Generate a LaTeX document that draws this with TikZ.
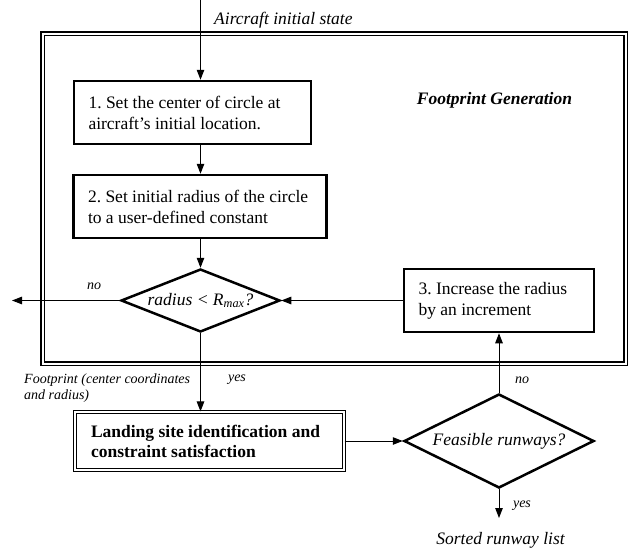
\documentclass[tikz,border=0pt]{standalone}
\usepackage{fontspec}
\setmainfont{Liberation Serif}
\usetikzlibrary{shapes.geometric,arrows.meta}
\frenchspacing
\newcommand\natsp{\spaceskip=0pt\xspaceskip=0pt\relax}
\begin{document}
\begin{tikzpicture}[x=1pt,y=-1pt,
  big/.style={font=\fontsize{17.5}{21}\selectfont},
  bigit/.style={font=\fontsize{17.5}{21}\selectfont\itshape},
  small/.style={font=\fontsize{14}{16}\selectfont\itshape},
  stepbox/.style={draw, line width=2.5pt, big, align=left, inner xsep=14.5pt, inner ysep=0pt, minimum height=63pt},
  decision/.style={draw, diamond, line width=2.5pt, bigit, inner sep=0pt},
  conn/.style={line width=1pt, -{Triangle[length=10pt,width=7.5pt]}},
  lab/.style={inner sep=0pt}
]
\useasboundingbox (0,0) rectangle (635,552);

% outer container frame
\draw[line width=1.1pt, double, double distance=2pt] (42.5,33.5) rectangle (625.5,363.5);

\coordinate (start) at (200.5,0);
\node[stepbox, minimum width=237pt, text width=208pt] (b1) at (192.5,112.5)
  {\natsp 1. Set the center of circle at\\aircraft's initial location.};
\node[stepbox, minimum width=252pt, text width=224pt] (b2) at (200,206.5)
  {\natsp 2. Set initial radius of the circle\\to a user-defined constant};
\node[decision, shape aspect=2.5, minimum width=159pt, minimum height=63pt] (d1) at (200.5,300.5)
  {radius < R\textsubscript{max}?};
\node[stepbox, minimum width=190pt, text width=161pt] (b3) at (499,300.5)
  {\natsp 3. Increase the radius\\by an increment};
\node[draw, line width=1.1pt, double, double distance=2pt, font=\fontsize{17.5}{20}\selectfont\bfseries,
      align=left, inner xsep=16pt, inner ysep=0pt, minimum width=269pt, minimum height=58pt,
      text width=237pt] (land) at (209.5,441)
  {\natsp Landing site identification and\\constraint satisfaction};
\node[decision, shape aspect=2, minimum width=190pt, minimum height=94pt] (d2) at (499,441)
  {Feasible runways?};

\coordinate (noend) at (12,300.5);
\coordinate (yesend) at (499,518);

% labels
\node[lab, bigit, anchor=west] (l0) at (214,20.5) {Aircraft initial state};
\node[lab, font=\fontsize{17.5}{21}\selectfont\bfseries\itshape] (l1) at (494.5,100) {Footprint Generation};
\node[lab, small] (l2) at (94,286) {no};
\node[lab, small, align=left, anchor=west] (l3) at (24,388)
  {\natsp Footprint (center coordinates\\and radius)};
\node[lab, small] (l4) at (237,380) {yes};
\node[lab, small] (l5) at (522,380) {no};
\node[lab, small] (l6) at (522,506) {yes};
\node[lab, bigit] (l7) at (500.5,540) {Sorted runway list};

% connectors (vertical column at x of d1)
\draw[conn] (start) -- (start |- b1.north);
\draw[conn] (d1.north |- b1.south) -- (d1.north |- b2.north);
\draw[conn] (d1.north |- b2.south) -- (d1.north);
\draw[conn] (d1.west) -- (noend);
\draw[conn] (b3.west) -- (d1.east);
\draw[conn] (d1.south) -- (d1.south |- land.north);
\draw[conn] (land.east) -- (d2.west);
\draw[conn] (d2.north) -- (b3.south);
\draw[conn] (d2.south) -- (yesend);
\end{tikzpicture}
\end{document}
